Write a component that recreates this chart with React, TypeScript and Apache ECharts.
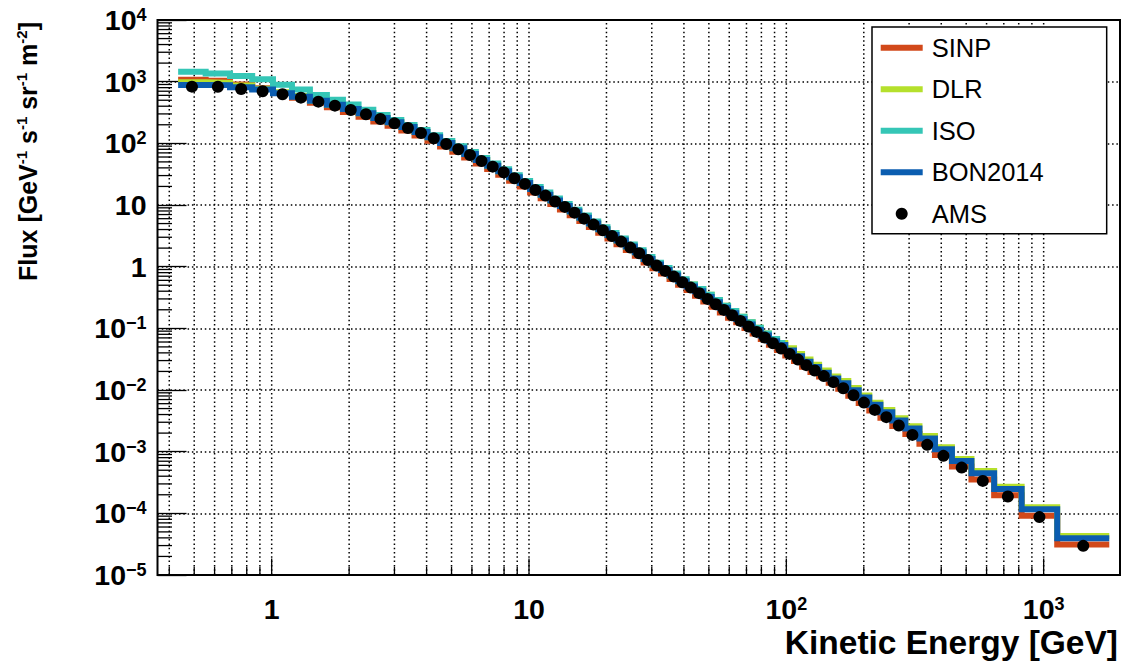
import { useEffect, useRef } from "react";
import * as echarts from "echarts";

// Kinetic-energy bin edges [GeV]
const EDGES = [
  0.433, 0.554, 0.689, 0.84, 1.012, 1.199, 1.408, 1.639, 1.892, 2.176, 2.483, 2.821,
  3.19, 3.59, 4.031, 4.513, 5.036, 5.599, 6.214, 6.878, 7.594, 8.369, 9.205, 10.1,
  11.1, 12.1, 13.19, 14.39, 15.69, 17.09, 18.58, 20.18, 21.88, 23.78, 25.78, 27.88,
  30.18, 32.57, 35.17, 37.97, 40.97, 44.17, 47.57, 51.27, 55.17, 59.37, 63.87, 68.77,
  73.97, 79.57, 85.57, 92.07, 99.07, 107.1, 115.1, 124.1, 134.1, 146.1, 159.1, 174.1,
  191.1, 210.1, 232.1, 258.1, 290.1, 329.1, 378.1, 440.1, 524.1, 642.1, 821.1, 1129, 1799,
];

// Energy at which each AMS measurement is plotted [GeV]
const AMS_E = [
  0.49, 0.618, 0.761, 0.922, 1.102, 1.299, 1.519, 1.761, 2.029, 2.325, 2.646, 3.0,
  3.384, 3.804, 4.265, 4.767, 5.31, 5.899, 6.537, 7.227, 7.972, 8.777, 9.643, 10.59,
  11.59, 12.63, 13.78, 15.03, 16.37, 17.82, 19.37, 21.01, 22.81, 24.76, 26.81, 29.0,
  31.35, 33.85, 36.55, 39.44, 42.54, 45.84, 49.39, 53.18, 57.23, 61.58, 66.27, 71.32,
  76.72, 82.51, 88.76, 95.5, 103.0, 111.0, 119.5, 129.0, 139.9, 152.4, 166.4, 182.4,
  200.3, 220.8, 244.7, 273.6, 309.0, 352.7, 407.9, 480.2, 580.1, 726.1, 962.8, 1425,
];

// Fluxes [GeV^-1 s^-1 sr^-1 m^-2]
const AMS = [
  830, 825, 762, 699, 625, 551, 474, 408, 348, 296,
  248, 211, 177, 147, 121, 97.7, 80.1, 64.8, 51.8, 41.9,
  34.0, 27.2, 22.0, 17.5, 14.2, 11.4, 9.31, 7.52, 6.01, 4.81,
  3.9, 3.15, 2.55, 2.04, 1.65, 1.28, 1.04, 0.853, 0.69, 0.56,
  0.458, 0.372, 0.3, 0.246, 0.199, 0.163, 0.132, 0.107, 0.0875, 0.0708,
  0.0574, 0.047, 0.0385, 0.0311, 0.0253, 0.0207, 0.0168, 0.0134, 0.0107, 0.00824,
  0.00625, 0.00476, 0.00363, 0.00265, 0.00187, 0.00129, 0.000855, 0.000552, 0.000336, 0.000187,
  0.0000869, 0.0000297,
];

const SINP = [
  1077, 1032, 901, 782, 661, 551, 456, 386, 323, 270,
  226, 192, 161, 134, 110, 89.0, 73.0, 59.0, 47.2, 38.2,
  31.0, 24.8, 20.0, 15.9, 12.9, 10.4, 8.48, 6.85, 5.48, 4.38,
  3.55, 2.87, 2.32, 1.86, 1.5, 1.17, 0.947, 0.777, 0.629, 0.51,
  0.417, 0.339, 0.273, 0.224, 0.181, 0.148, 0.125, 0.101, 0.0828, 0.067,
  0.0543, 0.0445, 0.0364, 0.0294, 0.0239, 0.0196, 0.0165, 0.0131, 0.0105, 0.00808,
  0.00613, 0.00467, 0.00356, 0.0026, 0.00194, 0.00134, 0.000887, 0.000573, 0.000353, 0.000196,
  0.0000912, 0.0000312,
];

const DLR = [
  978, 958, 868, 768, 674, 583, 492, 424, 361, 307,
  257, 219, 184, 153, 126, 101, 83.1, 67.3, 53.8, 43.5,
  35.3, 28.2, 22.8, 18.2, 14.7, 11.8, 9.66, 7.81, 6.24, 4.99,
  4.05, 3.27, 2.65, 2.12, 1.71, 1.33, 1.08, 0.885, 0.716, 0.581,
  0.516, 0.435, 0.351, 0.288, 0.233, 0.191, 0.154, 0.125, 0.102, 0.0828,
  0.0672, 0.0581, 0.0476, 0.0385, 0.0313, 0.0256, 0.0208, 0.0166, 0.014, 0.0108,
  0.00818, 0.00623, 0.00475, 0.00347, 0.00259, 0.00179, 0.00118, 0.000764, 0.000486, 0.000271,
  0.000126, 0.000043,
];

// ISO model is only given up to ~100 GeV
const ISO = [
  1453, 1360, 1238, 1094, 891, 743, 609, 510, 427, 350,
  288, 240, 198, 164, 135, 109, 89.6, 72.5, 58.0, 46.9,
  38.0, 30.4, 24.6, 19.6, 15.9, 12.8, 10.4, 8.41, 6.73, 5.38,
  4.36, 3.52, 2.85, 2.28, 1.85, 1.43, 1.16, 0.955, 0.772, 0.627,
  0.516, 0.435, 0.351, 0.288, 0.233, 0.191, 0.154, 0.125, 0.102, 0.0828,
  0.0672, 0.0581,
];

const BON2014 = [
  884, 879, 812, 744, 649, 572, 492, 424, 361, 307,
  257, 219, 184, 153, 126, 101, 83.1, 67.3, 53.8, 43.5,
  35.3, 28.2, 22.8, 18.2, 14.7, 11.8, 9.66, 7.81, 6.24, 4.99,
  4.05, 3.27, 2.65, 2.12, 1.71, 1.33, 1.08, 0.885, 0.716, 0.581,
  0.475, 0.401, 0.323, 0.265, 0.215, 0.176, 0.142, 0.115, 0.0943, 0.0763,
  0.0619, 0.0535, 0.0439, 0.0354, 0.0288, 0.0236, 0.0191, 0.0153, 0.0129, 0.00993,
  0.00753, 0.00574, 0.00437, 0.00319, 0.00238, 0.00164, 0.00109, 0.000703, 0.000448, 0.000249,
  0.000116, 0.0000396,
];

const MODELS = [
  { name: "SINP", values: SINP, color: "#D2491A" },
  { name: "DLR", values: DLR, color: "#B5E02C" },
  { name: "ISO", values: ISO, color: "#35C6B6" },
  { name: "BON2014", values: BON2014, color: "#0B5DB0" },
];

// Axis ranges and tick labels
const X_MIN = 0.36;
const X_MAX = 1980;
const Y_MIN = 1e-5;
const Y_MAX = 1e4;
const X_TICK_EXP = [0, 1, 2, 3];
const X_TICK_LABELS = ["1", "10", "10^2", "10^3"];
const Y_TICK_EXP = [-5, -4, -3, -2, -1, 0, 1, 2, 3, 4];
const Y_TICK_LABELS = ["10^\u22125", "10^\u22124", "10^\u22123", "10^\u22122", "10^\u22121", "1", "10", "10^2", "10^3", "10^4"];
const X_TITLE = "Kinetic Energy [GeV]";
const Y_TITLE = "{b|Flux [GeV}{s|-1}{b| s}{s|-1}{b| sr}{s|-1}{b| m}{s|-2}{b|]}";

const FONT = "'Liberation Sans', Arial, Helvetica, sans-serif";

// tick positions: every integer multiple inside each decade
const X_GRID: number[] = [];
for (let e = -1; e <= 3; e++) {
  for (let m = 1; m <= 9; m++) {
    const v = +(m * Math.pow(10, e)).toPrecision(6);
    if (v > X_MIN && v < X_MAX) X_GRID.push(v);
  }
}
const Y_MINOR: number[] = [];
for (let e = -5; e < 4; e++) {
  for (let m = 2; m <= 9; m++) Y_MINOR.push(+(m * Math.pow(10, e)).toPrecision(6));
}

const toRich = (label: string) => {
  if (label.indexOf("^") < 0) return `{b|${label}}`;
  const [b, s] = label.split("^");
  return `{b|${b}}{s|${s}}`;
};

const labelFor = (exps: number[], labels: string[]) => (v: number) => {
  const e = Math.round(Math.log10(v));
  const i = exps.indexOf(e);
  return i < 0 ? "" : toRich(labels[i]);
};

const TICK_RICH = {
  b: { fontFamily: FONT, fontWeight: "bold", fontSize: 28.5, color: "#000", lineHeight: 28 },
  s: { fontFamily: FONT, fontWeight: "bold", fontSize: 18, color: "#000", lineHeight: 16, verticalAlign: "top" },
};

const stepData = (vals: number[]) => {
  const pts = vals.map((v, i) => [EDGES[i], v]);
  pts.push([EDGES[vals.length], vals[vals.length - 1]]);
  return pts;
};

const DOTS = { stroke: "#000", lineWidth: 1.5, lineDash: [1.5, 2.8] };

function buildOption(): echarts.EChartsCoreOption {
  return {
    animation: false,
    backgroundColor: "#fff",
    textStyle: { fontFamily: FONT },
    grid: {
      left: 157.5,
      right: 7,
      top: 20,
      bottom: 87,
      show: true,
      borderColor: "#000",
      borderWidth: 2,
      backgroundColor: "transparent",
    },
    xAxis: {
      type: "log",
      logBase: 10,
      min: X_MIN,
      max: X_MAX,
      axisLine: { show: false },
      axisTick: { show: false },
      splitLine: { show: false },
      axisLabel: {
        margin: 20,
        showMinLabel: false,
        showMaxLabel: false,
        formatter: labelFor(X_TICK_EXP, X_TICK_LABELS),
        rich: TICK_RICH,
      },
    },
    yAxis: {
      type: "log",
      logBase: 10,
      min: Y_MIN,
      max: Y_MAX,
      axisLine: { show: false },
      axisTick: { show: true, inside: true, length: 29, lineStyle: { color: "#000", width: 1.3 } },
      splitLine: { show: true, lineStyle: { color: "#000", width: 1.5, type: [1.5, 2.8] } },
      axisLabel: {
        margin: 11,
        showMinLabel: true,
        showMaxLabel: true,
        formatter: labelFor(Y_TICK_EXP, Y_TICK_LABELS),
        rich: TICK_RICH,
      },
    },
    legend: {
      orient: "vertical",
      left: 872,
      top: 27,
      itemWidth: 42,
      itemHeight: 12,
      itemGap: 13.5,
      padding: [6.7, 63, 6, 8.7],
      backgroundColor: "#fff",
      borderColor: "#000",
      borderWidth: 1.5,
      borderRadius: 0,
      selectedMode: false,
      itemStyle: { borderWidth: 0 },
      textStyle: { fontFamily: FONT, fontSize: 25.5, color: "#000", lineHeight: 28, padding: [0, 0, 0, 4] },
      data: [
        ...MODELS.map((m) => ({ name: m.name, icon: "path://M0 0H42V6H0Z" })),
        { name: "AMS", icon: "circle", itemStyle: { color: "#000", opacity: 1 } },
      ],
    },
    graphic: [
      {
        type: "text",
        x: 1118,
        y: 642,
        style: {
          text: X_TITLE,
          fontFamily: FONT,
          fontWeight: "bold",
          fontSize: 33.5,
          fill: "#000",
          align: "right",
          verticalAlign: "middle",
        },
      },
      {
        type: "text",
        x: 28,
        y: 22,
        rotation: Math.PI / 2,
        style: {
          text: Y_TITLE,
          align: "right",
          verticalAlign: "middle",
          rich: {
            b: { fontFamily: FONT, fontWeight: "bold", fontSize: 25, fill: "#000", lineHeight: 28 },
            s: { fontFamily: FONT, fontWeight: "bold", fontSize: 15, fill: "#000", lineHeight: 15, verticalAlign: "top" },
          },
        },
      },
    ],
    series: [
      {
        name: "xgrid",
        type: "custom",
        silent: true,
        z: 1,
        data: X_GRID.map((v) => [v, 1]),
        encode: { x: 0, y: 1 },
        renderItem: (_p: any, api: any) => {
          const x = api.value(0);
          const b = api.coord([x, Y_MIN]);
          const t = api.coord([x, Y_MAX]);
          const major = X_TICK_EXP.some((e) => Math.abs(Math.log10(x) - e) < 1e-6);
          return {
            type: "group",
            children: [
              { type: "line", shape: { x1: b[0], y1: b[1], x2: t[0], y2: t[1] }, style: DOTS },
              {
                type: "line",
                shape: { x1: b[0], y1: b[1], x2: b[0], y2: b[1] - (major ? 16.5 : 8.3) },
                style: { stroke: "#000", lineWidth: 1.3 },
              },
            ],
          };
        },
      },
      {
        name: "yminor",
        type: "custom",
        silent: true,
        z: 1,
        data: Y_MINOR.map((v) => [X_MIN, v]),
        encode: { x: 0, y: 1 },
        renderItem: (_p: any, api: any) => {
          const p = api.coord([X_MIN, api.value(1)]);
          return {
            type: "line",
            shape: { x1: p[0], y1: p[1], x2: p[0] + 14.5, y2: p[1] },
            style: { stroke: "#000", lineWidth: 1.3 },
          };
        },
      },
      ...MODELS.map((m) => ({
        name: m.name,
        type: "line",
        step: "end",
        data: stepData(m.values),
        symbol: "none",
        showSymbol: false,
        z: 2,
        color: m.color,
        itemStyle: { color: m.color },
        lineStyle: { color: m.color, width: 6, cap: "butt", join: "miter" },
      })),
      {
        name: "AMS",
        type: "scatter",
        data: AMS_E.map((e, i) => [e, AMS[i]]),
        symbol: "circle",
        symbolSize: 12,
        z: 3,
        itemStyle: { color: "#000", opacity: 1 },
      },
    ],
  };
}

export default function App() {
  const ref = useRef<HTMLDivElement>(null);
  useEffect(() => {
    if (!ref.current) return;
    const chart = echarts.init(ref.current, null, { renderer: "svg" });
    chart.setOption(buildOption());
    return () => chart.dispose();
  }, []);
  return (
    <div
      ref={ref}
      style={{ position: "absolute", left: 0, top: 0, width: 1127, height: 662, background: "#fff" }}
    />
  );
}
